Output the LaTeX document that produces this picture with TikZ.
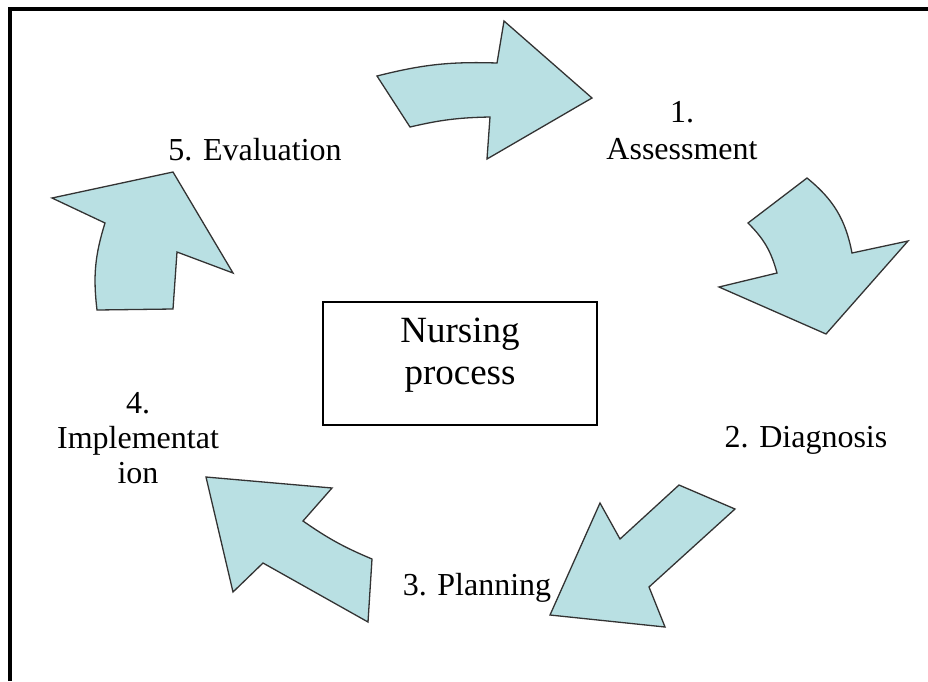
\documentclass[tikz,border=0pt]{standalone}
\usepackage{fontspec}
\setmainfont{Liberation Serif}
\usepackage{tikz}
\usetikzlibrary{positioning}
\definecolor{arrowfill}{RGB}{185,224,227}

\tikzset{
	cyclearrow/.style={fill=arrowfill,draw=black!80,line width=1.3pt,line join=miter},
	steplabel/.style={font=\fontsize{32}{37}\selectfont,inner sep=0pt,align=center},
}

\begin{document}
\begin{tikzpicture}[x=1pt,y=-1pt]
				\useasboundingbox (0,0) rectangle (928,681);
				\draw[line width=3.3pt] (10,681) -- (10,9) -- (928,9);
				
				% centre box
				\node[draw,line width=2.5pt,minimum width=274,minimum height=123,text depth=24pt,
					font=\fontsize{37}{42}\selectfont,align=center] (core) at (460,363.5) {Nursing\\process};
				
				% the five curved arrows, clockwise from the top
				\draw[cyclearrow] (377,76) to[bend left=8] (497,63) -- (504,21) -- (592,98)
					-- (487,159) -- (490,117) to[bend right=6] (410,127) -- cycle;
				\draw[cyclearrow] (807,178) to[bend left=20] (852,253) -- (908,241) -- (826,334)
					-- (719,287) -- (777,273) to[bend right=15] (748,223) -- cycle;
				\draw[cyclearrow] (679,485) -- (735,509) -- (649,587) -- (665,627)
					-- (550,615) -- (600,503) -- (620,539) -- cycle;
				\draw[cyclearrow] (206,477) -- (332,488) -- (303,521) to[bend right=6] (372,559)
					-- (368,622) -- (263,563) -- (233,592) -- cycle;
				\draw[cyclearrow] (105,223) to[bend right=12] (97,310) -- (173,309) -- (177,252)
					-- (233,273) -- (173,172) -- (52,198) -- cycle;
				
				% step labels
				\node[steplabel] (assess) at (682,131) {1.\\Assessment};
				\node[steplabel,anchor=base] (diag) at (806,447) {2. Diagnosis};
				\node[steplabel,anchor=base] (plan) at (477,595) {3. Planning};
				\node[steplabel,font=\fontsize{32}{35}\selectfont] (impl) at (138,438) {4.\\Implementat\\ion};
				\node[steplabel,anchor=base] (eval) at (255,160) {5. Evaluation};
\end{tikzpicture}
\end{document}
